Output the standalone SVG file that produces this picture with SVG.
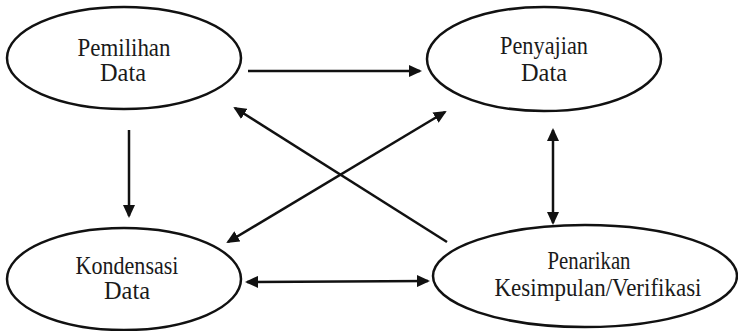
<svg xmlns="http://www.w3.org/2000/svg" width="738" height="331" viewBox="0 0 738 331">
<style>
.node ellipse{fill:#fff;stroke:#111;stroke-width:2.5}
.node text{font-family:'Liberation Serif','Times New Roman',serif;font-size:25px;fill:#1a1a1a;text-anchor:middle}
.conn line{stroke:#111;stroke-width:2.5;fill:none}
</style>
<defs>
<marker id="ah" markerUnits="userSpaceOnUse" markerWidth="14" markerHeight="12" refX="11" refY="6" orient="auto-start-reverse">
<path d="M0,0 L13,6 L0,12 z" fill="#111"/>
</marker>
</defs>
<rect width="738" height="331" fill="#fff"/>
<g id="pemilihan" class="node">
<ellipse cx="124" cy="58" rx="117" ry="51"/>
<text x="124" y="56" textLength="93" lengthAdjust="spacingAndGlyphs">Pemilihan</text>
<text x="123" y="81" textLength="46" lengthAdjust="spacingAndGlyphs">Data</text>
</g>
<g id="penyajian" class="node">
<ellipse cx="544" cy="59" rx="117" ry="52"/>
<text x="544" y="54" textLength="88" lengthAdjust="spacingAndGlyphs">Penyajian</text>
<text x="544" y="81" textLength="46" lengthAdjust="spacingAndGlyphs">Data</text>
</g>
<g id="kondensasi" class="node">
<ellipse cx="124" cy="279" rx="117" ry="51"/>
<text x="127" y="274" textLength="103" lengthAdjust="spacingAndGlyphs">Kondensasi</text>
<text x="127" y="299" textLength="46" lengthAdjust="spacingAndGlyphs">Data</text>
</g>
<g id="penarikan" class="node">
<ellipse cx="585" cy="276" rx="152" ry="51"/>
<text x="589" y="269" textLength="83" lengthAdjust="spacingAndGlyphs">Penarikan</text>
<text x="598" y="296" textLength="207" lengthAdjust="spacingAndGlyphs">Kesimpulan/Verifikasi</text>
</g>
<g id="connectors" class="conn">
<line x1="248" y1="71" x2="420" y2="71" marker-end="url(#ah)"/>
<line x1="129" y1="130" x2="129" y2="216" marker-end="url(#ah)"/>
<line x1="553" y1="130" x2="553" y2="223" marker-start="url(#ah)" marker-end="url(#ah)"/>
<line x1="247" y1="282" x2="428" y2="281" marker-start="url(#ah)" marker-end="url(#ah)"/>
<line x1="447" y1="242" x2="235" y2="108" marker-end="url(#ah)"/>
<line x1="228" y1="242" x2="445" y2="112" marker-start="url(#ah)" marker-end="url(#ah)"/>
</g>
</svg>
